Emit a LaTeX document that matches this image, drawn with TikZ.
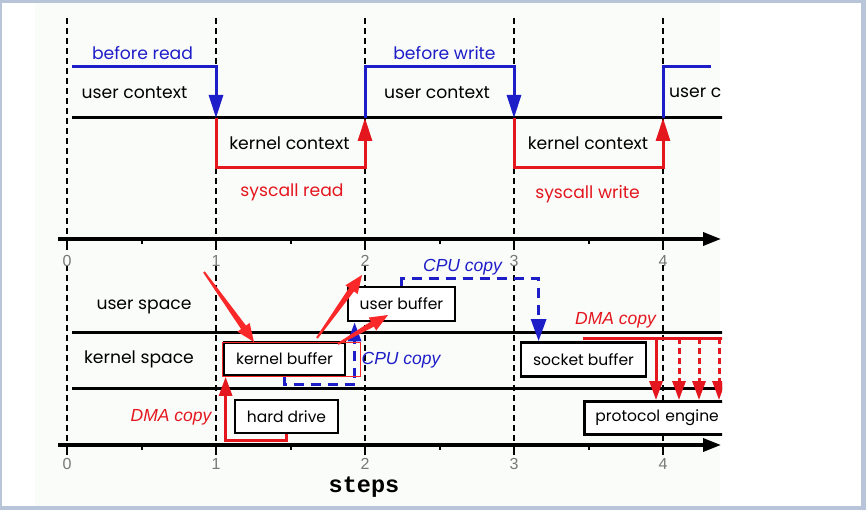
\documentclass[tikz,border=0pt]{standalone}
\usepackage{fontspec}
\setmainfont{Poppins}
\newfontfamily\itfont{Liberation Sans}
\newfontfamily\numfont{Liberation Sans}
\newfontfamily\stepsfont{Liberation Mono}
\usetikzlibrary{arrows.meta,calc}

\definecolor{cblue}{RGB}{30,30,200}
\definecolor{cred}{RGB}{228,22,30}
\definecolor{annred}{RGB}{250,40,40}
\definecolor{framecol}{RGB}{184,196,216}
\definecolor{numgray}{RGB}{120,120,120}
\definecolor{paper}{RGB}{250,252,250}

\tikzset{
 txt/.style={font=\fontsize{17.2}{20}\selectfont, inner sep=0pt},
 cpylbl/.style={font=\itfont\itshape\fontsize{17.5}{20}\selectfont, inner sep=0pt},
 numlbl/.style={font=\numfont\fontsize{16}{16}\selectfont, text=numgray, inner sep=0pt},
 bufbox/.style={draw, line width=2.8pt, fill=white, inner sep=0pt, minimum height=33pt, font=\fontsize{15.5}{18}\selectfont},
 thickline/.style={line width=3pt},
 bigtip/.style={-{Triangle[length=23pt,width=14pt]}},
 smalltip/.style={-{Triangle[length=19pt,width=13pt]}},
 axistip/.style={-{Triangle[length=18pt,width=13pt]}},
 guide/.style={line width=1.8pt, dash pattern=on 6pt off 4pt},
 cpuline/.style={cblue, line width=3pt, dash pattern=on 10pt off 7pt},
 dmaline/.style={cred, line width=3pt},
 dmadash/.style={cred, line width=3pt, dash pattern=on 6pt off 4pt},
}

\newcommand\annarrow[2]{%
  \coordinate (#1-h) at ($(#2)!18pt!(#1)$);
  \fill[annred] ($(#1)!1pt!90:(#2)$) -- ($(#1-h)!3pt!90:(#2)$) -- ($(#1-h)!7.5pt!90:(#2)$)
     -- (#2) -- ($(#1-h)!7.5pt!-90:(#2)$) -- ($(#1-h)!3pt!-90:(#2)$) -- ($(#1)!1pt!-90:(#2)$) -- cycle;
}

\begin{document}
\begin{tikzpicture}[x=1pt,y=-1pt]
\useasboundingbox (0,0) rectangle (866,510);
% window frame
\fill[framecol] (0,0) rectangle (866,510);
\fill[white] (2,3) rectangle (861,506);
\fill[paper] (35,3) rectangle (720,506);

\begin{scope}
\clip (0,0) rectangle (722,510);

% dashed step guides
\foreach \x in {67,216,365,514,663} {
  \draw[guide] (\x,18) -- (\x,236);
  \draw[guide] (\x,265) -- (\x,443);
}

% ---------- upper part: contexts ----------
\draw[thickline] (72,118) -- (725,118);
\coordinate (b0) at (72,67);
\coordinate (u1) at (216,118);
\coordinate (u2) at (365,118);
\coordinate (u3) at (514,118);
\coordinate (u4) at (663,118);
\coordinate (bend) at (711,67);

\draw[thickline, cblue, bigtip] (b0) -| (u1);
\draw[thickline, cred, bigtip] (u1) -- ++(0,50) -| (u2);
\draw[thickline, cblue, bigtip] (u2) -- ++(0,-51) -| (u3);
\draw[thickline, cred, bigtip] (u3) -- ++(0,50) -| (u4);
\draw[thickline, cblue] (u4) |- (bend);

\node[txt, text=cblue] (br) at (142.5,53.5) {before read};
\node[txt] (uc1) at (134.5,92.5) {user context};
\node[txt] (kc1) at (289.5,143.5) {kernel context};
\node[txt, text=cred] (sr) at (292,192) {syscall read};
\node[txt, text=cblue] (bw) at (444.5,53.5) {before write};
\node[txt] (uc2) at (437,92.5) {user context};
\node[txt] (kc2) at (588,143.5) {kernel context};
\node[txt, text=cred] (sw) at (587.5,194) {syscall write};
\node[txt, anchor=west] (uc3) at (669,93) {user c};

% upper axis
\draw[line width=3.5pt, axistip] (58,239) -- (721,239);
\foreach \x/\l in {67/0,216/1,365/2,514/3,663/4} {
  \draw[line width=2.5pt] (\x,239) -- (\x,250);
  \node[numlbl] (ta\l) at (\x,261) {\l};
}
\foreach \x in {142,291,440,589} \draw[line width=1.5pt] (\x,239) -- (\x,244);

% ---------- lower part: spaces ----------
\draw[thickline] (72,332) -- (725,332);
\draw[thickline] (72,388) -- (725,388);
\node[txt] (us) at (144,307) {user space};
\node[txt] (ks) at (139,359.5) {kernel space};

% lower axis
\draw[line width=3.5pt, axistip] (58,445) -- (721,445);
\foreach \x/\l in {67/0,216/1,365/2,514/3,663/4} {
  \draw[line width=2.5pt] (\x,445) -- (\x,455);
  \node[numlbl] (ba\l) at (\x,464) {\l};
}
\foreach \x in {142,291,440,589} \draw[line width=1.5pt] (\x,445) -- (\x,450);
\node[font=\stepsfont\bfseries\fontsize{23.5}{24}\selectfont, inner sep=0pt] (steps) at (364,487) {steps};

% buffers
\node[bufbox, minimum width=121pt] (kb) at (284.5,359) {kernel buffer};
\node[bufbox, minimum width=103pt] (hd) at (286.5,416.5) {hard drive};
\node[bufbox, minimum width=107pt, minimum height=34pt] (ub) at (401.5,304) {user buffer};
\node[bufbox, minimum width=125pt, minimum height=34pt] (sb) at (583.5,359.5) {socket buffer};
\node[bufbox, anchor=north west, inner xsep=11pt, text width=170pt, align=left] (pe) at (583,400) {protocol engine};

% DMA copy (read)
\draw[dmaline, smalltip] (hd.south) -- ++(0,6) -| ([xshift=3pt]kb.south west);
\node[cpylbl, text=cred] (dma1) at (171,417.5) {DMA copy};

% CPU copy (read)
\draw[cpuline, smalltip] (kb.south) -- ++(0,8) -| ([xshift=8pt]ub.south west);
\node[cpylbl, text=cblue] (cpu1) at (401,360) {CPU copy};

% CPU copy (write)
\draw[cpuline, -{Triangle[length=22pt,width=15pt]}] (ub.north) -- ++(0,-7) -| ([xshift=19pt]sb.north west);
\node[cpylbl, text=cblue] (cpu2) at (462.5,267.5) {CPU copy};

% DMA copy (write)
\coordinate (dmas) at (583,338);
\coordinate (d1) at (656,338);
\coordinate (d2) at (679,338);
\coordinate (d3) at (699,338);
\coordinate (d4) at (719,338);
\draw[dmaline] (dmas) -- (726,338);
\draw[dmaline, smalltip] (d1) -- (d1 |- pe.north);
\foreach \d in {d2,d3,d4} \draw[dmadash, smalltip] (\d) -- (\d |- pe.north);
\node[cpylbl, text=cred] (dma2) at (615.5,320) {DMA copy};
\end{scope}

% screenshot annotations
\draw[annred, line width=1pt] (222,342) rectangle (360,376);
\coordinate (an1t) at (204,272); \coordinate (an1h) at (254,342);
\coordinate (an2t) at (317,338); \coordinate (an2h) at (362,275);
\coordinate (an3t) at (338,344); \coordinate (an3h) at (388,315);
\annarrow{an1t}{an1h}
\annarrow{an2t}{an2h}
\annarrow{an3t}{an3h}
\end{tikzpicture}
\end{document}
